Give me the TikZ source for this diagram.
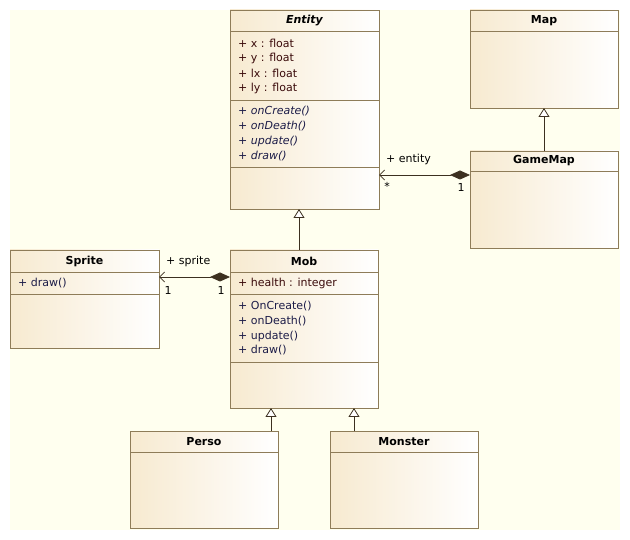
\documentclass[tikz,border=0pt]{standalone}
\usepackage{fontspec}
\setmainfont{DejaVu Sans}
\usetikzlibrary{arrows.meta}
\definecolor{bgcream}{HTML}{FFFFEF}
\definecolor{boxtan}{HTML}{F7EAD0}
\definecolor{boxedge}{HTML}{8E7C58}
\definecolor{attrcol}{HTML}{3A0A0A}
\definecolor{opcol}{HTML}{1C1C48}
\definecolor{linkcol}{HTML}{3C3020}
% horizontal compartment line at a given depth below the top of a class box
\newcommand{\compline}[2]{\draw[sepline] ([yshift=-#2pt]#1.north west) -- ([yshift=-#2pt]#1.north east);}
\begin{document}
\begin{tikzpicture}[x=1pt,y=-1pt,
  font=\fontsize{11}{13}\selectfont,
  classbox/.style={draw=boxedge, line width=0.9pt, left color=boxtan, right color=white,
    anchor=north west, inner sep=0pt, outer sep=0pt},
  ctitle/.style={font=\fontsize{11}{13}\selectfont\bfseries, anchor=center, inner sep=0pt},
  attr/.style={anchor=west, text=attrcol, inner sep=0pt},
  oper/.style={anchor=west, text=opcol, inner sep=0pt},
  sepline/.style={draw=boxedge, line width=0.9pt},
  gen/.style={draw=linkcol, line width=0.8pt,
    -{Triangle[open, length=9pt, width=11pt, fill=white]}},
  comp/.style={draw=linkcol, line width=0.8pt,
    {Diamond[length=20pt, width=9pt]}-{Straight Barb[length=5pt, width=10pt]}},
  role/.style={text=black, inner sep=0pt}]

\useasboundingbox (0,0) rectangle (630,540);
\fill[bgcream] (10,10) rectangle (620,530);

% class boxes
\node[classbox, minimum width=149pt, minimum height=199pt] (entity) at (230,10) {};
\node[classbox, minimum width=148pt, minimum height=98pt] (map) at (470,10) {};
\node[classbox, minimum width=148pt, minimum height=97pt] (gamemap) at (470,151) {};
\node[classbox, minimum width=149pt, minimum height=98pt] (sprite) at (10,250) {};
\node[classbox, minimum width=148pt, minimum height=158pt] (mob) at (230,250) {};
\node[classbox, minimum width=148pt, minimum height=97pt] (perso) at (130,431) {};
\node[classbox, minimum width=148pt, minimum height=97pt] (monster) at (330,431) {};

% compartments
\compline{entity}{21}\compline{entity}{90}\compline{entity}{157}
\compline{map}{21}
\compline{gamemap}{20}
\compline{sprite}{22}\compline{sprite}{44}
\compline{mob}{22}\compline{mob}{44}\compline{mob}{112}
\compline{perso}{21}
\compline{monster}{21}

% titles
\node[ctitle] (entity-t) at ([yshift=-10.5pt]entity.north) {\itshape Entity};
\node[ctitle] (map-t) at ([yshift=-10.5pt]map.north) {Map};
\node[ctitle] (gamemap-t) at ([yshift=-10pt]gamemap.north) {GameMap};
\node[ctitle] (sprite-t) at ([yshift=-11pt]sprite.north) {Sprite};
\node[ctitle] (mob-t) at ([yshift=-11pt]mob.north) {Mob};
\node[ctitle] (perso-t) at ([yshift=-10.5pt]perso.north) {Perso};
\node[ctitle] (monster-t) at ([yshift=-10.5pt]monster.north) {Monster};

% Entity members
\node[attr] (e-a1) at (238,43) {+ x : float};
\node[attr] (e-a2) at (238,58) {+ y : float};
\node[attr] (e-a3) at (238,73) {+ lx : float};
\node[attr] (e-a4) at (238,88) {+ ly : float};
\node[oper] (e-o1) at (238,111) {\itshape + onCreate()};
\node[oper] (e-o2) at (238,126) {\itshape + onDeath()};
\node[oper] (e-o3) at (238,141) {\itshape + update()};
\node[oper] (e-o4) at (238,156) {\itshape + draw()};

% Sprite members
\node[oper] (s-o1) at (18,283) {+ draw()};

% Mob members
\node[attr] (m-a1) at (238,283) {+ health : integer};
\node[oper] (m-o1) at (238,306) {+ OnCreate()};
\node[oper] (m-o2) at (238,321) {+ onDeath()};
\node[oper] (m-o3) at (238,336) {+ update()};
\node[oper] (m-o4) at (238,350) {+ draw()};

% generalizations
\draw[gen] (gamemap.north) -- (map.south);
\draw[gen] ([xshift=-5pt]mob.north) -- ([xshift=-5pt]mob.north |- entity.south);
\draw[gen] ([xshift=67pt]perso.north) -- ([xshift=67pt]perso.north |- mob.south);
\draw[gen] ([xshift=-50pt]monster.north) -- ([xshift=-50pt]monster.north |- mob.south);

% compositions
\draw[comp] ([yshift=-24pt]gamemap.north west) -- ([yshift=-24pt]gamemap.north west -| entity.east);
\draw[comp] ([yshift=-27pt]mob.north west) -- ([yshift=-27pt]mob.north west -| sprite.east);

% association ends
\node[role, anchor=west] (r-entity) at (386,159) {+ entity};
\node[role] (m-star) at (387,186) {*};
\node[role] (m-gm) at (461,187) {1};
\node[role, anchor=west] (r-sprite) at (166,261) {+ sprite};
\node[role] (m-sp) at (168,290) {1};
\node[role] (m-mob) at (221,290) {1};
\end{tikzpicture}
\end{document}
